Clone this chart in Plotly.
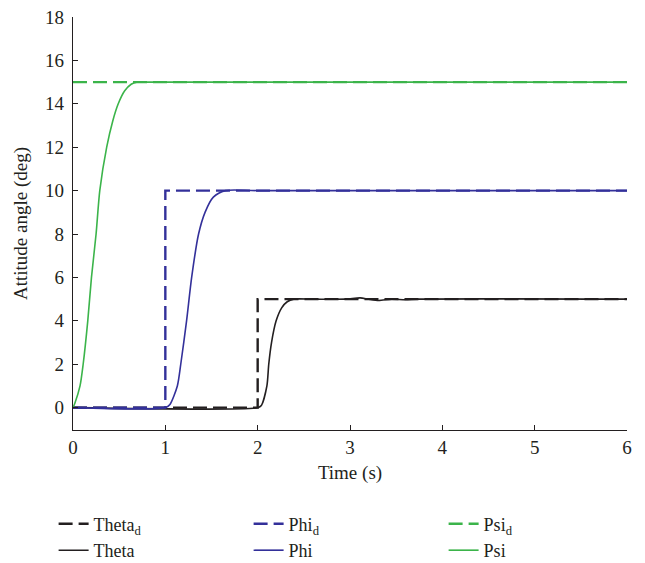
import plotly.graph_objects as go

# ---- data ----
psi_t = [0, 0.02, 0.076, 0.11, 0.16, 0.20, 0.25, 0.29, 0.365, 0.43, 0.49, 0.56, 0.63, 0.69, 0.8, 1.0, 6.0]
psi_v = [0, 0.2, 1.0, 2.0, 4.0, 6.0, 8.0, 10.0, 12.0, 13.2, 14.0, 14.6, 14.9, 15.0, 15.0, 15.0, 15.0]

phi_t = [0, 1.0, 1.05, 1.13, 1.167, 1.23, 1.285, 1.36, 1.43, 1.52, 1.65, 2.0, 6.0]
phi_v = [0, 0, 0.15, 1.0, 2.0, 4.0, 6.0, 8.0, 9.0, 9.7, 10.0, 10.0, 10.0]

theta_t = [0, 2.0, 2.04, 2.10, 2.12, 2.15, 2.20, 2.26, 2.32, 2.39, 2.6, 2.95, 3.11, 3.2, 3.31, 3.45, 3.6, 3.75, 6.0]
theta_v = [0, 0, 0.1, 1.0, 2.0, 3.0, 4.0, 4.6, 4.88, 5.0, 5.0, 5.0, 5.06, 5.0, 4.94, 5.0, 4.97, 5.0, 5.0]

psid_t = [0, 6]
psid_v = [15, 15]
phid_t = [0, 1, 1, 6]
phid_v = [0, 0, 10, 10]
thetad_t = [0, 2, 2, 6]
thetad_v = [0, 0, 5, 5]

x_ticks = [0, 1, 2, 3, 4, 5, 6]
y_ticks = [0, 2, 4, 6, 8, 10, 12, 14, 16, 18]

BLACK = "#231F20"
BLUE = "#33309A"
GREEN = "#3BB44A"
DASH = "14px,6px"
FONT = "Liberation Serif"

fig = go.Figure()

fig.add_trace(go.Scatter(x=theta_t, y=theta_v, mode="lines", name="Theta",
                         line=dict(color=BLACK, width=1.6, shape="spline", smoothing=0.7),
                         legendrank=4))
fig.add_trace(go.Scatter(x=thetad_t, y=thetad_v, mode="lines", name="Theta<sub>d</sub>",
                         line=dict(color=BLACK, width=2.4, dash=DASH), legendrank=1))
fig.add_trace(go.Scatter(x=phi_t, y=phi_v, mode="lines", name="Phi",
                         line=dict(color=BLUE, width=1.6, shape="spline", smoothing=0.7),
                         legendrank=5))
fig.add_trace(go.Scatter(x=phid_t, y=phid_v, mode="lines", name="Phi<sub>d</sub>",
                         line=dict(color=BLUE, width=2.4, dash=DASH), legendrank=2))
fig.add_trace(go.Scatter(x=psi_t, y=psi_v, mode="lines", name="Psi",
                         line=dict(color=GREEN, width=1.6, shape="spline", smoothing=0.7),
                         legendrank=6))
fig.add_trace(go.Scatter(x=psid_t, y=psid_v, mode="lines", name="Psi<sub>d</sub>",
                         line=dict(color=GREEN, width=2.4, dash=DASH), legendrank=3))

axis_common = dict(showline=True, linecolor="#231F20", linewidth=1.3, ticks="inside",
                   ticklen=5, tickcolor="#231F20", tickwidth=1.2, showgrid=False,
                   zeroline=False, tickfont=dict(family=FONT, size=19, color="#231F20"),
                   mirror=False)

fig.update_xaxes(range=[0, 6], tickvals=x_ticks,
                 title=dict(text="Time (s)", font=dict(family=FONT, size=19, color="#231F20"),
                            standoff=8),
                 **axis_common)
fig.update_yaxes(range=[-1.03, 18], tickvals=y_ticks, ticklabelstandoff=4,
                 title=dict(text="Attitude angle (deg)", font=dict(family=FONT, size=19, color="#231F20"),
                            standoff=12),
                 **axis_common)

fig.update_layout(
    width=645, height=563,
    margin=dict(l=73, r=18, t=17, b=133, autoexpand=False),
    plot_bgcolor="white", paper_bgcolor="white",
    font=dict(family=FONT, size=17, color="#231F20"),
    legend=dict(orientation="h", x=-0.035, xanchor="left",
                y=-0.183, yanchor="top",
                entrywidth=150, entrywidthmode="pixels", traceorder="normal",
                font=dict(family=FONT, size=18, color="#231F20"),
                bgcolor="rgba(0,0,0,0)"),
)

fig.write_html("out.html")
